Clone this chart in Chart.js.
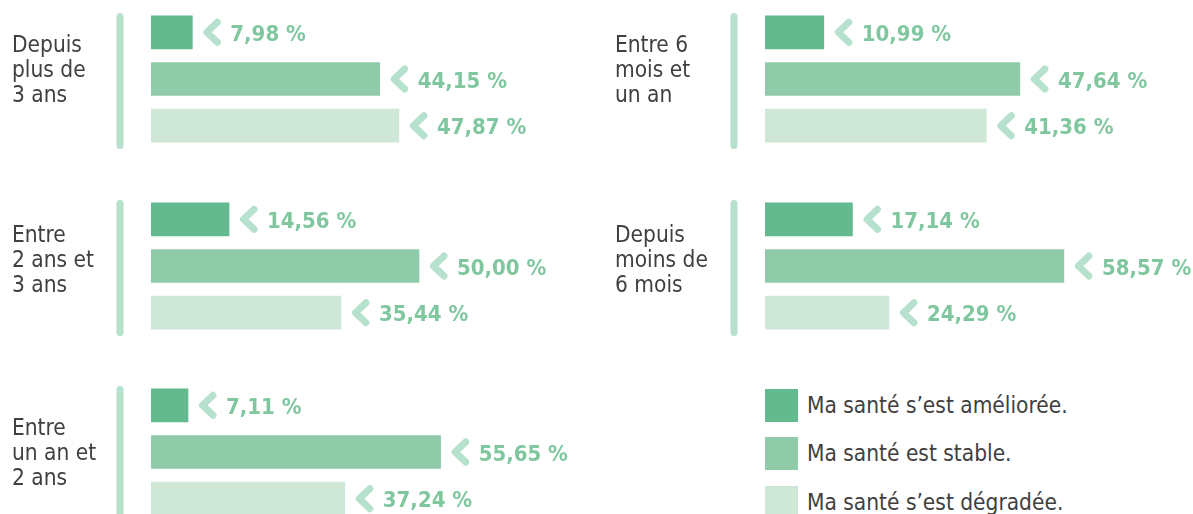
<!DOCTYPE html>
<html lang="fr">
<head>
<meta charset="utf-8">
<script src="https://cdn.jsdelivr.net/npm/chart.js@4/dist/chart.umd.min.js"></script>
<style>
  html, body { margin: 0; padding: 0; background: #fff; }
  body { width: 1193px; height: 514px; overflow: hidden; position: relative;
         font-family: "DejaVu Sans Condensed", "DejaVu Sans", sans-serif; font-stretch: condensed; color: #404040; }
  canvas { position: absolute; }
  .cat { position: absolute; font-size: 22.5px; line-height: 25px; }
  .leg { position: absolute; left: 765px; height: 33px; display: flex; align-items: center; }
  .leg span.box { width: 33px; height: 33px; display: inline-block; margin-right: 9px; }
  .leg span.txt { font-size: 22.5px; position: relative; top: -1px; }
</style>
</head>
<body>
<script>
// data
const groups = [
  "Depuis plus de 3 ans",
  "Entre 6 mois et un an",
  "Entre 2 ans et 3 ans",
  "Depuis moins de 6 mois",
  "Entre un an et 2 ans"
];
const groupLines = [
  ["Depuis", "plus de", "3 ans"],
  ["Entre 6", "mois et", "un an"],
  ["Entre", "2 ans et", "3 ans"],
  ["Depuis", "moins de", "6 mois"],
  ["Entre", "un an et", "2 ans"]
];
const seriesNames = ["Ma santé s’est améliorée.", "Ma santé est stable.", "Ma santé s’est dégradée."];
const improved = [7.98, 10.99, 14.56, 17.14, 7.11];
const stable   = [44.15, 47.64, 50.00, 58.57, 55.65];
const degraded = [47.87, 41.36, 35.44, 24.29, 37.24];

// each panel has its own scale in the picture
const xMax = [81.1, 78.5, 78.36, 82.3, 80.7];

const colors = ["#63ba8f", "#90cba9", "#cfe7d7"];
const accent = "#b5e1cd";
const valueColor = "#80c79f";

const colLeft = [0, 603];
const colWidth = [600, 590];
const areaLeft = [151, 162];
const rowTop = [9, 196, 382];
const labelTop = [32, 222, 415];

const fmt = v => v.toFixed(2).replace(".", ",") + " %";

const decorPlugin = {
  id: "decor",
  beforeDatasetsDraw(chart) {
    const { ctx, chartArea } = chart;
    ctx.save();
    ctx.strokeStyle = accent;
    ctx.lineWidth = 7;
    ctx.lineCap = "round";
    ctx.beginPath();
    const x = chartArea.left - 31;
    ctx.moveTo(x, chartArea.top + 7.5);
    ctx.lineTo(x, chartArea.bottom - 3.5);
    ctx.stroke();
    ctx.restore();
  },
  afterDatasetsDraw(chart) {
    const { ctx } = chart;
    const meta = chart.getDatasetMeta(0);
    const values = chart.data.datasets[0].data;
    ctx.save();
    meta.data.forEach((bar, i) => {
      const e = bar.x, cy = bar.y;
      ctx.strokeStyle = accent;
      ctx.lineWidth = 7;
      ctx.lineCap = "round";
      ctx.lineJoin = "round";
      ctx.beginPath();
      ctx.moveTo(e + 25, cy - 10);
      ctx.lineTo(e + 14.5, cy);
      ctx.lineTo(e + 25, cy + 10);
      ctx.stroke();
      ctx.fillStyle = valueColor;
      ctx.font = "bold 22px 'DejaVu Sans Condensed', 'DejaVu Sans'";
      ctx.textBaseline = "alphabetic";
      ctx.textAlign = "left";
      ctx.fillText(fmt(values[i]), e + 38, cy + 8.5);
    });
    ctx.restore();
  }
};

groups.forEach((g, i) => {
  const col = i % 2, row = Math.floor(i / 2);
  const canvas = document.createElement("canvas");
  canvas.width = colWidth[col];
  canvas.height = 156;
  canvas.style.left = colLeft[col] + "px";
  canvas.style.top = (rowTop[row] - 8) + "px";
  document.body.appendChild(canvas);

  const lab = document.createElement("div");
  lab.className = "cat";
  lab.style.left = (col === 0 ? 12 : 615) + "px";
  lab.style.top = labelTop[row] + "px";
  lab.innerHTML = groupLines[i].join("<br>");
  document.body.appendChild(lab);

  new Chart(canvas.getContext("2d"), {
    type: "bar",
    data: {
      labels: seriesNames,
      datasets: [{
        label: g,
        data: [improved[i], stable[i], degraded[i]],
        backgroundColor: colors,
        barThickness: 33,
        borderWidth: 0
      }]
    },
    options: {
      indexAxis: "y",
      responsive: false,
      animation: false,
      layout: { padding: { left: areaLeft[col], right: colWidth[col] - areaLeft[col] - 420, top: 8, bottom: 8 } },
      scales: {
        x: { min: 0, max: xMax[i], display: false },
        y: { display: false }
      },
      plugins: { legend: { display: false }, tooltip: { enabled: false } }
    },
    plugins: [decorPlugin]
  });
});

// legend
const legendTop = [389, 437, 486];
seriesNames.forEach((name, k) => {
  const d = document.createElement("div");
  d.className = "leg";
  d.style.top = legendTop[k] + "px";
  d.innerHTML = '<span class="box" style="background:' + colors[k] + '"></span><span class="txt">' + name + '</span>';
  document.body.appendChild(d);
});
</script>
</body>
</html>
